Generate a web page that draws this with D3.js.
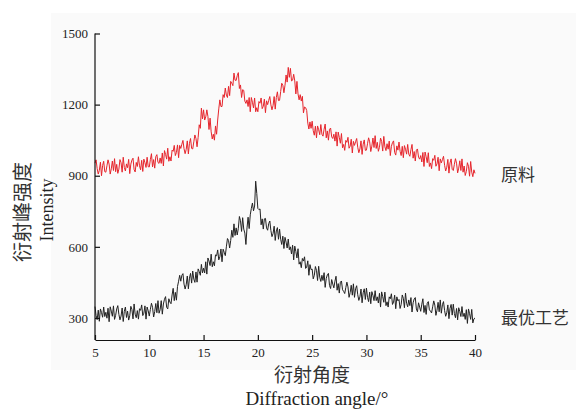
<!DOCTYPE html>
<html>
<head>
<meta charset="utf-8">
<script src="https://cdn.jsdelivr.net/npm/d3@7"></script>
<style>
  body { margin: 0; background: #fff; }
  svg { display: block; }
</style>
</head>
<body>
<svg id="chart"></svg>
<script>
// angle grid: 5.0 .. 40.0 step 0.1
const angleStart = 5, angleStep = 0.1;

// 原料 (raw material)
const rawValues = [
  953, 967, 930, 907, 923, 957, 900, 943, 961, 917,
  915, 942, 967, 949, 907, 929, 962, 922, 972, 917,
  948, 910, 928, 968, 955, 915, 978, 935, 920, 950,
  934, 969, 909, 949, 966, 974, 926, 916, 956, 939,
  980, 942, 925, 965, 918, 970, 955, 935, 978, 938,
  937, 968, 993, 937, 968, 932, 981, 989, 956, 952,
  975, 952, 996, 941, 1006, 990, 970, 1016, 961, 980,
  962, 1008, 1003, 1028, 985, 998, 1030, 976, 1028, 1015,
  1033, 1049, 1014, 993, 1011, 1047, 992, 1037, 1057, 1015,
  1013, 1043, 1072, 1057, 1022, 1062, 1115, 1100, 1185, 1140,
  1178, 1135, 1148, 1178, 1150, 1095, 1143, 1085, 1055, 1075,
  1050, 1110, 1075, 1135, 1182, 1220, 1192, 1192, 1242, 1230,
  1270, 1240, 1230, 1277, 1238, 1298, 1290, 1280, 1333, 1303,
  1302, 1322, 1335, 1268, 1283, 1230, 1263, 1260, 1215, 1205,
  1220, 1192, 1230, 1170, 1230, 1210, 1186, 1228, 1170, 1187,
  1170, 1213, 1206, 1228, 1183, 1193, 1223, 1166, 1216, 1200,
  1218, 1234, 1199, 1178, 1196, 1234, 1181, 1230, 1254, 1217,
  1218, 1255, 1290, 1282, 1250, 1282, 1325, 1295, 1357, 1315,
  1353, 1300, 1303, 1328, 1300, 1245, 1298, 1245, 1220, 1242,
  1215, 1235, 1165, 1190, 1187, 1175, 1122, 1097, 1127, 1100,
  1130, 1090, 1071, 1109, 1060, 1110, 1094, 1073, 1116, 1075,
  1067, 1096, 1118, 1060, 1089, 1050, 1096, 1101, 1064, 1057,
  1075, 1046, 1085, 1025, 1084, 1062, 1037, 1078, 1018, 1032,
  1007, 1049, 1041, 1062, 1016, 1025, 1054, 996, 1045, 1028,
  1043, 1057, 1020, 997, 1013, 1047, 990, 1033, 1051, 1007,
  1008, 1035, 1060, 1043, 1002, 1025, 1059, 1019, 1069, 1015,
  1041, 1003, 1020, 1059, 1045, 1004, 1066, 1022, 1006, 1035,
  1012, 1046, 985, 1024, 1040, 1047, 998, 987, 1026, 1008,
  1042, 1003, 985, 1024, 976, 1027, 1012, 991, 1032, 991,
  982, 1010, 1032, 974, 1002, 962, 1008, 1013, 978, 970,
  985, 958, 998, 939, 1000, 980, 955, 997, 939, 954,
  930, 972, 965, 986, 940, 950, 978, 921, 971, 954,
  968, 982, 944, 920, 936, 969, 911, 954, 971, 927,
  922, 948, 972, 953, 912, 932, 963, 922, 971, 915,
  941, 901, 918, 955, 940, 898, 960, 915, 896, 925,
  910
];

// 最优工艺 (optimised process)
const bestValues = [
  348, 310, 293, 333, 286, 338, 323, 303, 346, 306,
  324, 299, 341, 284, 347, 329, 307, 351, 294, 311,
  338, 352, 315, 292, 308, 342, 285, 328, 346, 302,
  329, 291, 309, 349, 336, 296, 359, 316, 301, 331,
  295, 339, 332, 355, 310, 320, 351, 295, 346, 330,
  308, 336, 362, 345, 304, 327, 361, 322, 373, 320,
  335, 373, 316, 359, 379, 390, 345, 338, 381, 367,
  360, 397, 425, 373, 408, 375, 433, 455, 480, 455,
  480, 487, 443, 422, 440, 477, 423, 468, 488, 447,
  498, 464, 450, 494, 451, 507, 496, 480, 526, 490,
  510, 490, 537, 485, 553, 540, 521, 569, 516, 537,
  520, 566, 562, 587, 545, 558, 591, 537, 590, 577,
  563, 600, 635, 627, 595, 627, 670, 640, 697, 648,
  680, 650, 678, 728, 710, 665, 723, 675, 658, 610,
  680, 725, 677, 735, 762, 785, 752, 772, 877, 825,
  762, 757, 760, 693, 718, 675, 718, 720, 680, 670,
  698, 709, 669, 643, 656, 687, 627, 667, 681, 632,
  675, 632, 610, 645, 593, 640, 620, 595, 633, 588,
  600, 570, 607, 545, 603, 580, 553, 592, 527, 537,
  512, 551, 540, 558, 509, 515, 541, 480, 525, 504,
  506, 465, 480, 517, 501, 458, 518, 472, 454, 480,
  458, 491, 429, 467, 482, 488, 437, 424, 462, 443,
  427, 455, 476, 417, 445, 405, 451, 456, 419, 412,
  403, 428, 451, 431, 387, 407, 438, 396, 444, 387,
  423, 436, 398, 374, 389, 422, 364, 406, 423, 378,
  426, 387, 369, 409, 360, 411, 395, 373, 415, 373,
  389, 363, 404, 346, 410, 390, 366, 409, 352, 368,
  346, 389, 381, 402, 357, 367, 396, 339, 389, 372,
  378, 340, 357, 397, 383, 343, 405, 362, 347, 376,
  352, 386, 325, 364, 380, 386, 338, 326, 364, 346,
  328, 358, 381, 323, 353, 315, 362, 369, 334, 329,
  321, 347, 372, 354, 311, 333, 366, 326, 376, 320,
  356, 369, 331, 307, 322, 355, 297, 340, 357, 312,
  358, 319, 301, 340, 292, 343, 327, 306, 348, 306,
  320, 294, 335, 277, 338, 318, 294, 336, 279, 296,
  300
];

const seriesNames = ["原料", "最优工艺"];
const seriesColors = ["#e6252c", "#222222"];
const xTicks = [5, 10, 15, 20, 25, 30, 35, 40];
const yTicks = [300, 600, 900, 1200, 1500];

const width = 576, height = 409;
const plotLeft = 95, plotRight = 475, plotTop = 33.5, plotBottom = 340;

const svg = d3.select("#chart").attr("width", width).attr("height", height);

// light panel behind the plot
svg.append("rect")
  .attr("x", 51).attr("y", 13)
  .attr("width", width - 51).attr("height", 357)
  .attr("fill", "#fafafa");

const x = d3.scaleLinear().domain([5, 40]).range([plotLeft, plotRight]);
const y = d3.scaleLinear().domain([207, 1500]).range([plotBottom, plotTop]);

const serif = "'Liberation Serif', 'DejaVu Serif', serif";
const cjk = "'Noto Sans CJK SC', sans-serif";

const toPoints = (vals) => vals.map((v, i) => [angleStart + i * angleStep, v]);
const line = d3.line().x((d) => x(d[0])).y((d) => y(d[1]));

[rawValues, bestValues].forEach((vals, i) => {
  svg.append("path")
    .datum(toPoints(vals))
    .attr("fill", "none")
    .attr("stroke", seriesColors[i])
    .attr("stroke-width", 1)
    .attr("stroke-linejoin", "round")
    .attr("d", line);
});

// axes, ticks pointing inward
const xAxis = svg.append("g")
  .attr("transform", `translate(0,${plotBottom})`)
  .call(d3.axisBottom(x).tickValues(xTicks).tickFormat(d3.format("d"))
    .tickSizeInner(-5).tickSizeOuter(0).tickPadding(8));
const yAxis = svg.append("g")
  .attr("transform", `translate(${plotLeft},0)`)
  .call(d3.axisLeft(y).tickValues(yTicks).tickFormat(d3.format("d"))
    .tickSizeInner(-5).tickSizeOuter(0).tickPadding(7));

[xAxis, yAxis].forEach((g) => {
  g.select(".domain").attr("stroke", "#111").attr("stroke-width", 1.2);
  g.selectAll(".tick line").attr("stroke", "#111").attr("stroke-width", 1.2);
  g.selectAll("text").attr("font-family", serif).attr("font-size", 13).attr("fill", "#222");
});
// y axis starts at the 1500 tick
yAxis.select(".domain").attr("d", `M0,${plotBottom}V${y(1500)}`);

// series labels
svg.append("text").attr("x", 501).attr("y", 181)
  .attr("font-family", cjk).attr("font-size", 17).attr("fill", "#333")
  .text(seriesNames[0]);
svg.append("text").attr("x", 501).attr("y", 324)
  .attr("font-family", cjk).attr("font-size", 17).attr("fill", "#333")
  .text(seriesNames[1]);

// axis titles
svg.append("text").attr("x", 312).attr("y", 382)
  .attr("text-anchor", "middle").attr("font-family", cjk).attr("font-size", 19).attr("fill", "#333")
  .text("衍射角度");
svg.append("text").attr("x", 317).attr("y", 405)
  .attr("text-anchor", "middle").attr("font-family", serif).attr("font-size", 19).attr("fill", "#222")
  .text("Diffraction  angle/°");

svg.append("text")
  .attr("transform", "translate(30,212) rotate(-90)")
  .attr("text-anchor", "middle").attr("font-family", cjk).attr("font-size", 20).attr("fill", "#333")
  .text("衍射峰强度");
svg.append("text")
  .attr("transform", "translate(53,210) rotate(-90)")
  .attr("text-anchor", "middle").attr("font-family", serif).attr("font-size", 18).attr("fill", "#222")
  .text("Intensity");
</script>
</body>
</html>
